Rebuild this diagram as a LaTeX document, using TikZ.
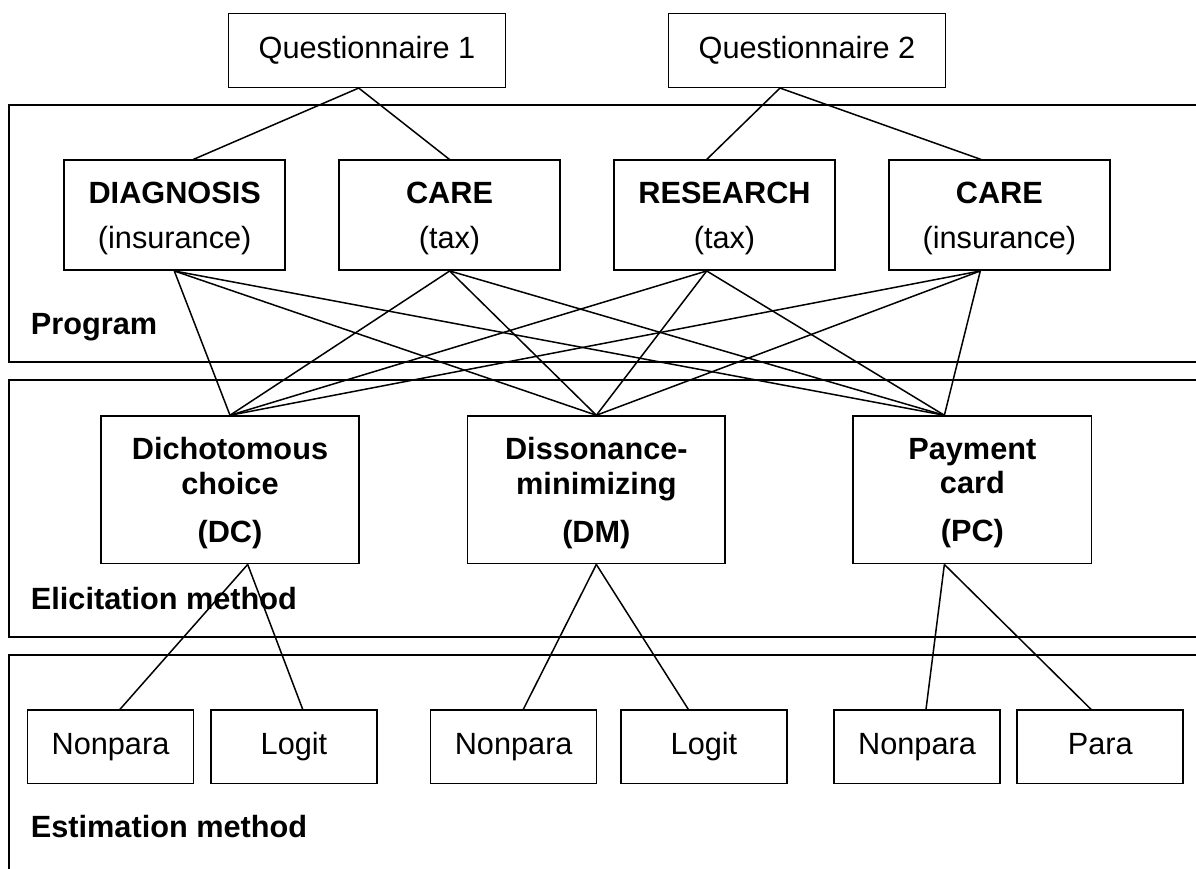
\documentclass[tikz,border=0pt]{standalone}
\usepackage{fontspec}
\setmainfont{Liberation Sans}
\newcommand\fsz{\fontsize{30.7}{34.7}\selectfont}
\newcommand\nodepth[1]{\raisebox{0pt}[\height][0pt]{#1}}
\begin{document}
\begin{tikzpicture}[x=1pt,y=-1pt,
  panel/.style={draw,line width=1.7pt},
  box/.style={draw,line width=1.5pt,inner sep=0pt,align=center,font=\fsz,fill=white},
  onebox/.style={box,text height=22.2pt,text depth=6.4pt},
  qbox/.style={onebox,minimum width=276.6pt,minimum height=74pt},
  pbox/.style={box,minimum width=221pt,minimum height=110pt},
  ebox/.style={box,minimum height=147.7pt},
  sbox/.style={onebox,minimum width=166pt,minimum height=73.3pt},
  conn/.style={line width=1.5pt},
  lbl/.style={anchor=base west,inner sep=0pt,font=\fsz\bfseries}]
\clip (0,0) rectangle (1196,868);
\fill[white] (0,0) rectangle (1196,868);
% panels
\draw[panel] (1215,105.3) -- (9.3,105.3) -- (9.3,361.7) -- (1215,361.7);
\draw[panel] (1215,380) -- (9.3,380) -- (9.3,636.7) -- (1215,636.7);
\draw[panel] (1215,655.3) -- (9.3,655.3) -- (9.3,900);
% panel labels
\node[lbl] (lprog) at (30.7,334.3) {Program};
\node[lbl] (lelic) at (30.7,609) {Elicitation method};
\node[lbl] (lest) at (30.7,837.7) {Estimation method};
% questionnaires
\node[qbox] (q1) at (367,50.3) {Questionnaire 1};
\node[qbox] (q2) at (807,50.3) {Questionnaire 2};
% programs
\node[pbox] (diag) at (174.7,215.2) {\textbf{DIAGNOSIS}\\[10.6pt]\nodepth{(insurance)}};
\node[pbox] (careT) at (449.5,215.2) {\textbf{CARE}\\[10.6pt]\nodepth{(tax)}};
\node[pbox] (res) at (724.5,215.2) {\textbf{RESEARCH}\\[10.6pt]\nodepth{(tax)}};
\node[pbox] (careI) at (999.4,215.2) {\textbf{CARE}\\[10.6pt]\nodepth{(insurance)}};
% elicitation
\node[ebox,minimum width=258pt] (dc) at (230,489.85) {\bfseries Dichotomous\\ \bfseries choice\\[12.9pt]\nodepth{\bfseries (DC)}};
\node[ebox,minimum width=257.3pt] (dm) at (596.35,489.85) {\bfseries Dissonance-\\ \bfseries minimizing\\[12.9pt]\nodepth{\bfseries (DM)}};
\node[ebox,minimum width=238.7pt] (pc) at (972.35,489.85) {\bfseries Payment\\ \bfseries card\\[12.9pt]\nodepth{\bfseries (PC)}};
% estimation
\node[sbox] (np1) at (110.5,746.7) {Nonpara};
\node[sbox] (lg1) at (294,746.7) {Logit};
\node[sbox] (np2) at (513.7,746.7) {Nonpara};
\node[sbox] (lg2) at (704,746.7) {Logit};
\node[sbox] (np3) at (917,746.7) {Nonpara};
\node[sbox] (para) at (1100.2,746.7) {Para};
% connectors: questionnaires to programs
\draw[conn] ([xshift=-8.3pt]q1.south) -- ([xshift=18.6pt]diag.north);
\draw[conn] ([xshift=-8.3pt]q1.south) -- (careT.north);
\draw[conn] ([xshift=-27pt]q2.south) -- ([xshift=-17.8pt]res.north);
\draw[conn] ([xshift=-27pt]q2.south) -- ([xshift=-18.4pt]careI.north);
% programs to elicitation methods
\foreach \s/\a in {diag/-0.4,careT/0.2,res/-17.8,careI/-19.1}
  \foreach \t/\b in {dc/0,dm/0,pc/-28}
    \draw[conn] ([xshift=\a pt]\s.south) -- ([xshift=\b pt]\t.north);
% elicitation to estimation
\draw[conn] ([xshift=17.7pt]dc.south) -- ([xshift=9.5pt]np1.north);
\draw[conn] ([xshift=17.7pt]dc.south) -- ([xshift=8.7pt]lg1.north);
\draw[conn] (dm.south) -- ([xshift=9.6pt]np2.north);
\draw[conn] (dm.south) -- ([xshift=-15.7pt]lg2.north);
\draw[conn] ([xshift=-28pt]pc.south) -- ([xshift=9pt]np3.north);
\draw[conn] ([xshift=-28pt]pc.south) -- ([xshift=-9.2pt]para.north);
\end{tikzpicture}
\end{document}
